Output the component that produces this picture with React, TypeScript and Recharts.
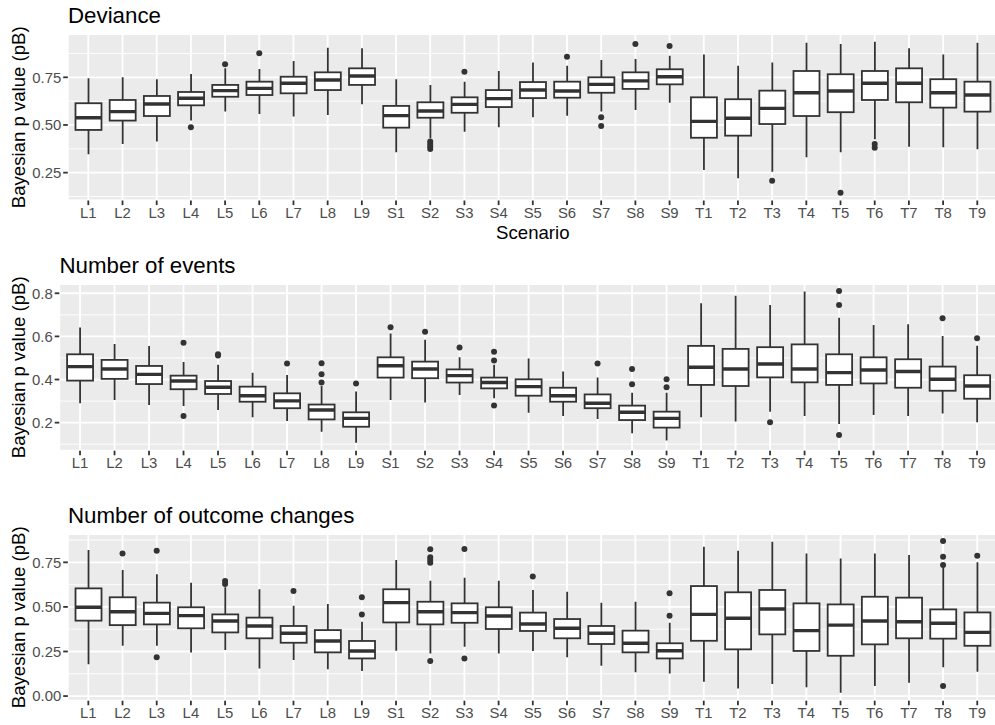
import React from "react";
import {
  ComposedChart,
  Bar,
  Scatter,
  XAxis,
  YAxis,
  CartesianGrid,
} from "recharts";

const scenarios = [
  "L1", "L2", "L3", "L4", "L5", "L6", "L7", "L8", "L9",
  "S1", "S2", "S3", "S4", "S5", "S6", "S7", "S8", "S9",
  "T1", "T2", "T3", "T4", "T5", "T6", "T7", "T8", "T9",
];

// Deviance
const devLow = [0.346, 0.4, 0.413, 0.523, 0.57, 0.558, 0.544, 0.552, 0.609, 0.357, 0.43, 0.465, 0.488, 0.54, 0.549, 0.57, 0.579, 0.617, 0.264, 0.221, 0.255, 0.331, 0.357, 0.425, 0.386, 0.383, 0.373];
const devQ1 = [0.474, 0.523, 0.547, 0.603, 0.648, 0.657, 0.666, 0.683, 0.71, 0.486, 0.538, 0.564, 0.594, 0.641, 0.643, 0.669, 0.689, 0.713, 0.433, 0.444, 0.505, 0.547, 0.567, 0.631, 0.619, 0.591, 0.57];
const devMed = [0.538, 0.57, 0.61, 0.64, 0.68, 0.692, 0.719, 0.736, 0.757, 0.549, 0.573, 0.608, 0.638, 0.683, 0.678, 0.713, 0.731, 0.753, 0.519, 0.535, 0.587, 0.669, 0.678, 0.719, 0.719, 0.669, 0.657];
const devQ3 = [0.614, 0.631, 0.652, 0.673, 0.71, 0.727, 0.753, 0.776, 0.797, 0.6, 0.619, 0.645, 0.683, 0.725, 0.727, 0.75, 0.776, 0.792, 0.645, 0.635, 0.68, 0.783, 0.766, 0.783, 0.797, 0.74, 0.727];
const devHigh = [0.745, 0.75, 0.74, 0.767, 0.797, 0.793, 0.835, 0.905, 0.902, 0.74, 0.71, 0.727, 0.783, 0.827, 0.811, 0.841, 0.846, 0.863, 0.87, 0.811, 0.827, 0.931, 0.925, 0.937, 0.902, 0.87, 0.931];
const devOut: number[][] = [
  [], [], [], [0.488], [0.818], [0.876], [], [], [],
  [], [0.413, 0.4, 0.387, 0.374], [0.779], [], [], [0.858], [0.54, 0.495], [0.925], [0.914],
  [], [], [0.207], [], [0.145], [0.4, 0.381], [], [], [],
];

// Number of events
const evLow = [0.29, 0.305, 0.282, 0.277, 0.259, 0.225, 0.208, 0.158, 0.107, 0.305, 0.293, 0.328, 0.313, 0.246, 0.231, 0.217, 0.151, 0.117, 0.225, 0.205, 0.251, 0.231, 0.194, 0.236, 0.231, 0.243, 0.202];
const evQ1 = [0.395, 0.403, 0.379, 0.355, 0.333, 0.297, 0.267, 0.215, 0.181, 0.409, 0.406, 0.386, 0.359, 0.325, 0.297, 0.267, 0.212, 0.177, 0.375, 0.37, 0.41, 0.387, 0.375, 0.382, 0.362, 0.348, 0.311];
const evMed = [0.46, 0.449, 0.424, 0.393, 0.364, 0.325, 0.301, 0.259, 0.22, 0.464, 0.449, 0.418, 0.386, 0.367, 0.325, 0.29, 0.248, 0.22, 0.457, 0.449, 0.472, 0.449, 0.432, 0.444, 0.437, 0.401, 0.37];
const evQ3 = [0.517, 0.491, 0.463, 0.418, 0.393, 0.367, 0.336, 0.284, 0.248, 0.503, 0.483, 0.447, 0.409, 0.401, 0.362, 0.331, 0.279, 0.251, 0.556, 0.542, 0.55, 0.563, 0.517, 0.503, 0.494, 0.46, 0.42];
const evHigh = [0.641, 0.565, 0.556, 0.481, 0.468, 0.432, 0.421, 0.37, 0.344, 0.614, 0.584, 0.503, 0.468, 0.498, 0.437, 0.409, 0.339, 0.339, 0.754, 0.789, 0.746, 0.808, 0.687, 0.653, 0.656, 0.602, 0.557];
const evOut: number[][] = [
  [], [], [], [0.571, 0.231], [0.517, 0.512], [], [0.474], [0.475, 0.424, 0.386], [0.382],
  [0.642], [0.622], [0.548], [0.529, 0.488, 0.279], [], [], [0.474], [0.449, 0.378], [0.401, 0.364],
  [], [], [0.202], [], [0.811, 0.746, 0.143], [], [], [0.684], [0.591],
];

// Number of outcome changes
const ocLow = [0.178, 0.282, 0.282, 0.245, 0.258, 0.155, 0.202, 0.15, 0.14, 0.254, 0.239, 0.277, 0.239, 0.253, 0.217, 0.17, 0.133, 0.127, 0.08, 0.043, 0.067, 0.049, 0.019, 0.056, 0.075, 0.161, 0.137];
const ocQ1 = [0.423, 0.398, 0.402, 0.38, 0.357, 0.324, 0.299, 0.245, 0.211, 0.413, 0.402, 0.411, 0.376, 0.365, 0.324, 0.292, 0.245, 0.211, 0.31, 0.262, 0.346, 0.253, 0.226, 0.29, 0.324, 0.322, 0.282];
const ocMed = [0.498, 0.473, 0.464, 0.451, 0.421, 0.393, 0.352, 0.309, 0.253, 0.524, 0.473, 0.468, 0.449, 0.404, 0.38, 0.352, 0.296, 0.254, 0.458, 0.436, 0.488, 0.367, 0.398, 0.421, 0.417, 0.408, 0.357];
const ocQ3 = [0.604, 0.554, 0.524, 0.498, 0.458, 0.44, 0.393, 0.37, 0.309, 0.599, 0.529, 0.52, 0.498, 0.468, 0.432, 0.393, 0.367, 0.296, 0.617, 0.582, 0.595, 0.52, 0.514, 0.557, 0.552, 0.486, 0.469];
const ocHigh = [0.819, 0.707, 0.683, 0.636, 0.61, 0.599, 0.507, 0.516, 0.417, 0.763, 0.647, 0.664, 0.647, 0.595, 0.585, 0.524, 0.529, 0.411, 0.838, 0.815, 0.866, 0.8, 0.772, 0.8, 0.791, 0.722, 0.75];
const ocOut: number[][] = [
  [], [0.8], [0.815, 0.217], [], [0.645, 0.628], [], [0.589], [], [0.554, 0.458],
  [], [0.823, 0.778, 0.763, 0.748, 0.196], [0.825, 0.211], [], [0.67], [], [], [], [0.576, 0.451],
  [], [], [], [], [], [], [], [0.87, 0.782, 0.735, 0.056], [0.787],
];

const devTicks = [0.25, 0.5, 0.75];
const devMinor = [0.125, 0.375, 0.625, 0.875];
const evTicks = [0.2, 0.4, 0.6, 0.8];
const evMinor = [0.1, 0.3, 0.5, 0.7];
const ocTicks = [0, 0.25, 0.5, 0.75];
const ocMinor = [0.125, 0.375, 0.625, 0.875];

const INK = "#333333";

function buildRows(low: number[], q1: number[], med: number[], q3: number[], high: number[], out: number[][]) {
  return scenarios.map((name, i) => {
    const row: any = { name, range: [low[i], high[i]], q1: q1[i], med: med[i], q3: q3[i] };
    out[i].forEach((v, j) => {
      row["o" + j] = v;
    });
    return row;
  });
}

function BoxShape(props: any) {
  const { x, y, width, height, payload } = props;
  const [lo, hi] = payload.range;
  const top = Math.min(y, y + height);
  const bottom = Math.max(y, y + height);
  const k = (bottom - top) / (hi - lo);
  const py = (v: number) => bottom - (v - lo) * k;
  const cx = x + width / 2;
  return (
    <g>
      <line x1={cx} x2={cx} y1={py(hi)} y2={py(lo)} stroke={INK} strokeWidth={1.8} />
      <rect
        x={x}
        y={py(payload.q3)}
        width={width}
        height={py(payload.q1) - py(payload.q3)}
        fill="#ffffff"
        stroke={INK}
        strokeWidth={1.8}
      />
      <line x1={x} x2={x + width} y1={py(payload.med)} y2={py(payload.med)} stroke={INK} strokeWidth={3.4} />
    </g>
  );
}

function dotShape(key: string) {
  return (props: any) => {
    const { cx, cy, payload } = props;
    if (!payload || payload[key] == null || cx == null || cy == null || Number.isNaN(cx) || Number.isNaN(cy)) {
      return <g />;
    }
    return <circle cx={cx} cy={cy} r={3} fill={INK} />;
  };
}

type PanelProps = {
  rows: any[];
  domain: [number, number];
  ticks: number[];
  minor: number[];
  digits: number;
  top: number;
  plotLeft: number;
  plotBottom: number;
  right: number;
};

function Panel({ rows, domain, ticks, minor, digits, top, plotLeft, plotBottom, right }: PanelProps) {
  const plotTop = top + 34;
  const height = plotBottom - top + 24;
  const pad = ((right - plotLeft) / 27.2) * 0.1;
  const maxOut = Math.max(...rows.map((r) => Object.keys(r).filter((k) => k.startsWith("o")).length));
  const outKeys = Array.from({ length: maxOut }, (_, j) => "o" + j);
  const tickStyle = { fill: "#4D4D4D", fontSize: 14.9 };
  return (
    <div style={{ position: "absolute", left: 0, top }}>
      <ComposedChart
        width={right}
        height={height}
        data={rows}
        margin={{ top: plotTop - top, right: 0, bottom: 0, left: 0 }}
        barCategoryGap="12.5%"
      >
        <CartesianGrid
          fill="#EBEBEB"
          fillOpacity={1}
          stroke="#ffffff"
          strokeWidth={0.9}
          vertical={false}
          horizontalValues={minor}
        />
        <CartesianGrid stroke="#ffffff" strokeWidth={1.8} />
        <XAxis
          dataKey="name"
          type="category"
          interval={0}
          height={24}
          axisLine={false}
          tickSize={4.6}
          tickMargin={2.6}
          tickLine={{ stroke: INK, strokeWidth: 1.8 }}
          tick={tickStyle}
          padding={{ left: pad, right: pad }}
        />
        <YAxis
          type="number"
          domain={domain}
          allowDataOverflow
          ticks={ticks}
          width={plotLeft}
          axisLine={false}
          tickSize={4.6}
          tickMargin={2}
          tickLine={{ stroke: INK, strokeWidth: 1.8 }}
          tick={tickStyle}
          tickFormatter={(v: number) => v.toFixed(digits)}
        />
        <Bar dataKey="range" shape={<BoxShape />} isAnimationActive={false} />
        {outKeys.map((k) => (
          <Scatter key={k} dataKey={k} shape={dotShape(k)} isAnimationActive={false} />
        ))}
      </ComposedChart>
    </div>
  );
}

export default function App() {
  const devRows = buildRows(devLow, devQ1, devMed, devQ3, devHigh, devOut);
  const evRows = buildRows(evLow, evQ1, evMed, evQ3, evHigh, evOut);
  const ocRows = buildRows(ocLow, ocQ1, ocMed, ocQ3, ocHigh, ocOut);
  const yTitle = "Bayesian p value (pB)";
  return (
    <div
      style={{
        position: "absolute",
        left: 0,
        top: 0,
        width: 995,
        height: 725,
        overflow: "hidden",
        background: "#ffffff",
        fontFamily: '"Liberation Sans", Arial, sans-serif',
      }}
    >
      <Panel rows={devRows} domain={[0.104, 0.977]} ticks={devTicks} minor={devMinor} digits={2}
        top={0} plotLeft={67.8} plotBottom={200.5} right={997.8} />
      <Panel rows={evRows} domain={[0.07, 0.843]} ticks={evTicks} minor={evMinor} digits={1}
        top={250} plotLeft={59.3} plotBottom={450.7} right={997.8} />
      <Panel rows={ocRows} domain={[-0.026, 0.909]} ticks={ocTicks} minor={ocMinor} digits={2}
        top={500} plotLeft={67.8} plotBottom={700.7} right={997.8} />
      <svg width={995} height={725} style={{ position: "absolute", left: 0, top: 0, pointerEvents: "none" }}>
        <text x={68} y={22.7} fontSize={22.3} fill="#000">Deviance</text>
        <text x={59.5} y={272.7} fontSize={22.3} fill="#000">Number of events</text>
        <text x={68} y={523.3} fontSize={22.3} fill="#000">Number of outcome changes</text>
        <text x={532.8} y={239.3} fontSize={18.6} fill="#000" textAnchor="middle">Scenario</text>
        {[117.3, 367.3, 617.3].map((cy) => (
          <text key={cy} x={0} y={0} fontSize={18.6} fill="#000" textAnchor="middle"
            transform={`translate(25.3 ${cy}) rotate(-90)`}>
            {yTitle}
          </text>
        ))}
      </svg>
    </div>
  );
}
